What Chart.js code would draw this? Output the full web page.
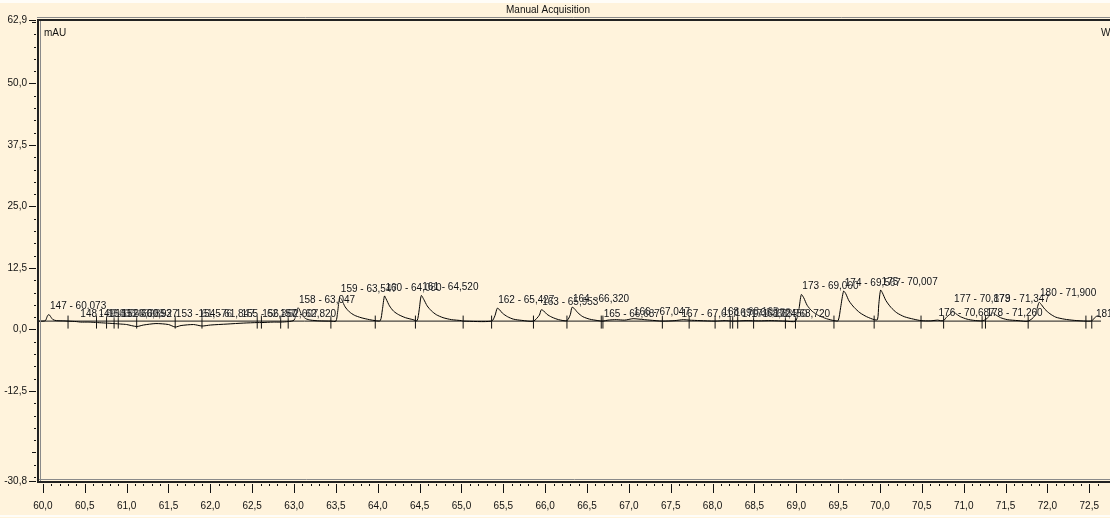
<!DOCTYPE html>
<html>
<head>
<meta charset="utf-8">
<script src="https://cdn.jsdelivr.net/npm/chart.js@4.4.1/dist/chart.umd.min.js"></script>
<style>
  html, body { margin: 0; padding: 0; background: #fff3dc; }
  #wrap { position: relative; width: 1110px; height: 518px; }
</style>
</head>
<body>
<div id="wrap"><canvas id="chromCanvas" width="1110" height="518"></canvas></div>
<script>
// detector trace (time in min, signal in mAU)
const signalTime = [
  59.953, 60.00, 60.03, 60.05, 60.065, 60.08, 60.10, 60.12, 60.16, 60.25, 60.30, 60.40, 60.45,
  60.55, 60.65, 60.75, 60.85, 60.93, 61.00, 61.12, 61.20, 61.35, 61.50, 61.58, 61.65, 61.80,
  61.90, 62.00, 62.20, 62.40, 62.56, 62.61, 62.75, 62.84, 62.93, 63.00, 63.03, 63.045, 63.06,
  63.09, 63.14, 63.20, 63.30, 63.44, 63.50, 63.52, 63.545, 63.57, 63.61, 63.66, 63.72, 63.80,
  63.90, 63.97, 64.03, 64.055, 64.08, 64.10, 64.14, 64.19, 64.25, 64.33, 64.42, 64.47, 64.495,
  64.52, 64.55, 64.59, 64.64, 64.70, 64.78, 64.88, 65.00, 65.02, 65.36, 65.40, 65.427, 65.45,
  65.49, 65.55, 65.62, 65.72, 65.86, 65.93, 65.953, 65.98, 66.02, 66.08, 66.16, 66.26, 66.30,
  66.32, 66.345, 66.39, 66.45, 66.53, 66.63, 66.69, 66.75, 66.85, 66.95, 67.05, 67.12, 67.25,
  67.40, 67.55, 67.65, 67.72, 67.85, 68.03, 68.15, 68.24, 68.40, 68.55, 68.70, 68.87, 68.99,
  69.03, 69.06, 69.09, 69.13, 69.19, 69.27, 69.36, 69.45, 69.50, 69.53, 69.565, 69.59, 69.63,
  69.69, 69.76, 69.84, 69.93, 69.97, 69.985, 70.007, 70.03, 70.07, 70.13, 70.20, 70.29, 70.40,
  70.49, 70.60, 70.69, 70.72, 70.76, 70.80, 70.85, 70.87, 70.90, 70.96, 71.04, 71.12, 71.22,
  71.26, 71.30, 71.347, 71.38, 71.44, 71.52, 71.65, 71.77, 71.85, 71.90, 71.93, 71.97, 72.03,
  72.10, 72.20, 72.32, 72.46, 72.53, 72.56, 72.60, 72.64
];
const signalMAU = [
  1.7, 1.7, 1.8, 2.6, 3.0, 2.9, 2.4, 2.0, 1.8, 1.75, 1.7, 1.6, 1.5,
  1.5, 1.4, 1.3, 1.2, 1.1, 1.0, 0.6, 0.9, 1.2, 1.0, 0.5, 0.8, 1.0,
  0.7, 0.9, 1.1, 1.3, 1.4, 1.4, 1.5, 1.5, 1.6, 1.9, 3.5, 4.4, 4.2,
  3.0, 2.2, 1.9, 1.75, 1.7, 1.7, 3.5, 6.5, 6.0, 4.6, 3.6, 2.9, 2.4,
  2.0, 1.8, 1.8, 4.0, 6.8, 6.2, 4.8, 3.7, 3.0, 2.4, 2.0, 1.8, 4.0,
  6.9, 6.1, 4.8, 3.8, 3.0, 2.4, 2.0, 1.8, 1.7, 1.7, 2.8, 4.3, 4.1,
  3.3, 2.6, 2.1, 1.85, 1.7, 2.9, 4.0, 3.8, 3.1, 2.5, 2.0, 1.8, 3.0,
  4.5, 4.3, 3.4, 2.6, 2.1, 1.8, 1.7, 1.9, 2.0, 1.9, 2.2, 2.1, 1.9,
  1.7, 1.8, 2.0, 1.9, 1.8, 1.7, 1.8, 1.7, 1.8, 1.75, 1.8, 1.7, 1.7,
  4.0, 7.1, 6.4, 4.9, 3.7, 2.8, 2.2, 1.8, 1.8, 4.5, 7.8, 7.3, 5.8,
  4.5, 3.4, 2.6, 2.0, 2.0, 5.0, 8.0, 7.4, 5.9, 4.5, 3.4, 2.6, 2.1,
  1.8, 1.75, 1.9, 1.8, 1.8, 2.6, 3.3, 3.8, 3.3, 2.6, 2.1, 1.85, 1.75,
  2.0, 2.6, 3.4, 3.0, 2.4, 2.0, 1.8, 1.7, 2.8, 5.5, 5.0, 4.1, 3.2,
  2.5, 2.1, 1.85, 1.7, 1.75, 2.3, 2.8, 2.4
];

// integration baseline
const baselineTime = [59.953, 72.64];
const baselineMAU = [1.7, 1.7];

// peak start / end marks
const markTime = [
  60.30, 60.64, 60.76, 60.85, 60.90, 61.12, 61.58, 61.90, 62.56, 62.61, 62.84, 62.93, 63.44,
  63.97, 64.45, 65.02, 65.36, 65.86, 66.26, 66.67, 66.69, 67.40, 67.72, 68.03, 68.21, 68.24,
  68.30, 68.49, 68.87, 68.99, 69.45, 69.93, 70.49, 70.76, 71.22, 71.26, 71.77, 72.46, 72.53
];
const markMAU = markTime.map(() => 1.5);

// peak table: number, retention time, apex height
const peakNumber = [
  147, 148, 149, 150, 151, 152, 153, 154, 155, 156, 157, 158, 159, 160, 161, 162, 163, 164,
  165, 166, 167, 168, 169, 170, 171, 172, 173, 174, 175, 176, 177, 178, 179, 180, 181
];
const peakTime = [
  60.073, 60.435, 60.652, 60.768, 60.853, 60.927, 61.576, 61.847, 62.360, 62.607, 62.820,
  63.047, 63.547, 64.080, 64.520, 65.427, 65.953, 66.320, 66.687, 67.047, 67.617, 68.105,
  68.253, 68.335, 68.450, 68.720, 69.060, 69.567, 70.007, 70.687, 70.873, 71.260, 71.347,
  71.900, 72.567
];
const peakHeight = [
  3.0, 1.5, 1.5, 1.5, 1.5, 1.5, 1.5, 1.5, 1.5, 1.5, 1.5, 4.4, 6.5, 6.8, 6.9, 4.3, 4.0, 4.5,
  1.5, 1.9, 1.4, 1.8, 1.6, 1.5, 1.5, 1.5, 7.1, 7.8, 8.0, 1.6, 4.6, 1.6, 4.6, 5.8, 1.5
];

// axis
const yLabelled = [-30.8, -12.5, 0, 12.5, 25, 37.5, 50, 62.9];
const xLabelled = [60, 60.5, 61, 61.5, 62, 62.5, 63, 63.5, 64, 64.5, 65, 65.5, 66, 66.5,
  67, 67.5, 68, 68.5, 69, 69.5, 70, 70.5, 71, 71.5, 72, 72.5];

const X_MIN = 59.953;
const X_MAX = 72.64;
const FONT = 'Arial, "Liberation Sans", sans-serif';
const NARROW = '"Liberation Sans Narrow", "Arial Narrow", Arial, sans-serif';

const comma = (v, d) => v.toFixed(d).replace('.', ',');
const pairs = (xs, ys) => xs.map((x, i) => ({ x: x, y: ys[i] }));

const decorPlugin = {
  id: 'decor',
  beforeDraw: (chart) => {
    const ctx = chart.ctx;
    ctx.save();
    ctx.fillStyle = '#fffdf8';
    ctx.fillRect(0, 0, chart.width, 3);
    ctx.fillRect(0, chart.height - 3, chart.width, 2);
    ctx.restore();
  },
  afterDraw: (chart) => {
    const ctx = chart.ctx;
    const xs = chart.scales.x;
    const ys = chart.scales.y;
    const a = chart.chartArea;
    ctx.save();

    // y tick marks
    ctx.strokeStyle = '#111';
    ctx.lineWidth = 1;
    for (let k = -12; k <= 25; k++) {
      const py = Math.round(ys.getPixelForValue(k * 2.5)) + 0.5;
      const len = (k % 5 === 0) ? 4 : 2;
      ctx.beginPath();
      ctx.moveTo(a.left - 3 - len, py);
      ctx.lineTo(a.left - 3, py);
      ctx.stroke();
    }
    yLabelled.forEach(v => {
      const py = Math.round(ys.getPixelForValue(v)) + 0.5;
      ctx.beginPath();
      ctx.moveTo(a.left - 10, py);
      ctx.lineTo(a.left - 3, py);
      ctx.stroke();
    });

    // x tick marks
    for (let k = 0; k <= 126; k++) {
      const px = Math.round(xs.getPixelForValue(60 + k * 0.1)) + 0.5;
      const len = (k % 5 === 0) ? 9 : 2;
      ctx.beginPath();
      ctx.moveTo(px, a.bottom + 3);
      ctx.lineTo(px, a.bottom + 3 + len);
      ctx.stroke();
    }

    // frame
    ctx.strokeStyle = '#222';
    ctx.lineWidth = 2;
    ctx.beginPath();
    ctx.moveTo(a.left - 2, a.top);
    ctx.lineTo(chart.width, a.top);
    ctx.moveTo(a.left - 1, a.top);
    ctx.lineTo(a.left - 1, a.bottom + 2);
    ctx.moveTo(a.left - 1, a.bottom + 1);
    ctx.lineTo(chart.width, a.bottom + 1);
    ctx.stroke();
    ctx.strokeStyle = '#8a8a8a';
    ctx.lineWidth = 1;
    ctx.beginPath();
    ctx.moveTo(a.left - 2, a.top - 2.5);
    ctx.lineTo(chart.width, a.top - 2.5);
    ctx.moveTo(a.left + 1.5, a.top + 1);
    ctx.lineTo(a.left + 1.5, a.bottom);
    ctx.moveTo(a.left, a.bottom - 1.5);
    ctx.lineTo(chart.width, a.bottom - 1.5);
    ctx.stroke();

    // title and corner texts
    ctx.fillStyle = '#111';
    ctx.textBaseline = 'middle';
    ctx.textAlign = 'center';
    ctx.font = '10px ' + NARROW;
    ctx.fillText('Manual Acquisition', chart.width / 2 - 7, 10);
    ctx.textAlign = 'left';
    ctx.font = '10px ' + FONT;
    ctx.fillText('mAU', a.left + 5, a.top + 13);
    ctx.fillText('W', chart.width - 9, a.top + 13);

    // peak labels
    ctx.shadowColor = 'rgba(255,255,255,0.95)';
    ctx.shadowBlur = 3;
    peakNumber.forEach((n, i) => {
      const px = xs.getPixelForValue(peakTime[i]) + 1;
      const py = ys.getPixelForValue(peakHeight[i]) - 8;
      ctx.fillText(n + ' - ' + comma(peakTime[i], 3), px, py);
    });
    ctx.restore();
  }
};

const ctx = document.getElementById('chromCanvas').getContext('2d');
new Chart(ctx, {
  type: 'line',
  data: {
    datasets: [
      {
        data: pairs(signalTime, signalMAU),
        borderColor: '#000',
        borderWidth: 1,
        pointRadius: 0,
        tension: 0.25,
        order: 1
      },
      {
        data: pairs(baselineTime, baselineMAU),
        borderColor: '#1a1a1a',
        borderWidth: 1,
        pointRadius: 0,
        order: 2
      },
      {
        data: pairs(markTime, markMAU),
        showLine: false,
        pointStyle: 'line',
        rotation: 90,
        pointRadius: 6.5,
        borderColor: '#111',
        borderWidth: 1,
        order: 0
      }
    ]
  },
  options: {
    responsive: false,
    animation: false,
    parsing: false,
    layout: { autoPadding: false, padding: { left: 0, top: 20, bottom: 0, right: -8 } },
    plugins: {
      legend: { display: false },
      tooltip: { enabled: false },
      title: { display: false }
    },
    scales: {
      x: {
        type: 'linear',
        min: X_MIN,
        max: X_MAX,
        grid: { display: false },
        border: { display: false },
        afterBuildTicks: (s) => { s.ticks = xLabelled.map(v => ({ value: v })); },
        afterFit: (s) => { s.height = 37; },
        ticks: {
          autoSkip: false,
          maxRotation: 0,
          padding: 11,
          color: '#111',
          font: { family: NARROW, size: 10 },
          callback: (v) => comma(v, 1)
        }
      },
      y: {
        type: 'linear',
        min: -30.8,
        max: 62.9,
        grid: { display: false },
        border: { display: false },
        afterBuildTicks: (s) => { s.ticks = yLabelled.map(v => ({ value: v })); },
        afterFit: (s) => { s.width = 39; },
        ticks: {
          autoSkip: false,
          padding: 4,
          color: '#111',
          font: { family: NARROW, size: 10 },
          callback: (v) => comma(v, 1)
        }
      }
    }
  },
  plugins: [decorPlugin]
});
</script>
</body>
</html>
